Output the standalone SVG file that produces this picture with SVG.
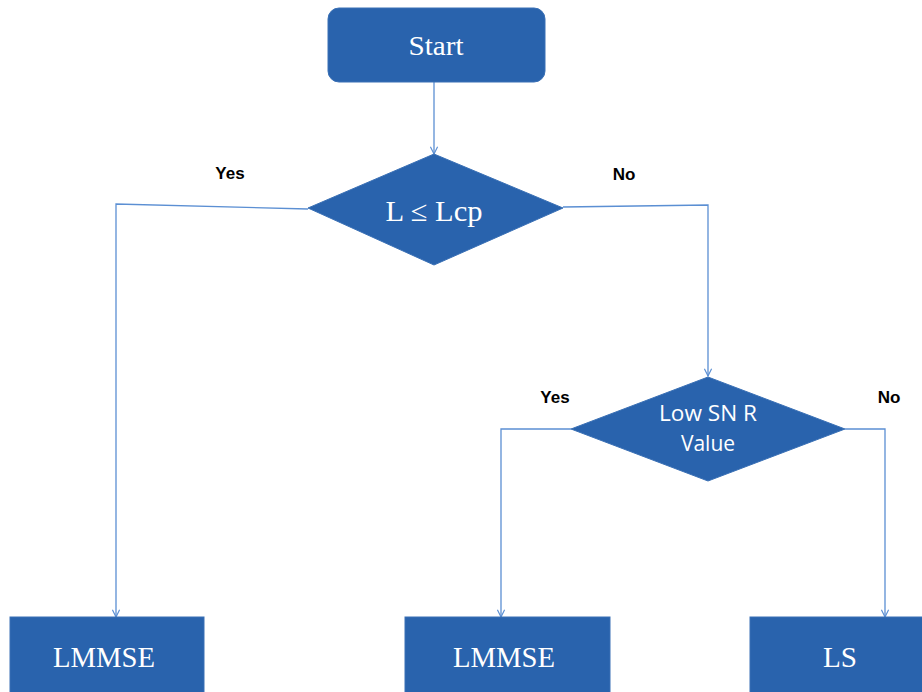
<svg xmlns="http://www.w3.org/2000/svg" width="922" height="692" viewBox="0 0 922 692">
<style>
.shape{fill:#2963ad;stroke:#3a70b5;stroke-width:1}
.serif{font-family:"Liberation Serif","DejaVu Serif",serif;fill:#ffffff;text-anchor:middle}
.sans{font-family:"Open Sans","Liberation Sans",sans-serif;fill:#ffffff;text-anchor:middle;font-size:21px}
.lbl{font-family:"Liberation Sans",Arial,sans-serif;font-weight:bold;font-size:17px;fill:#000;text-anchor:middle}
.conn{fill:none;stroke:#5b8fd3;stroke-width:1.3}
</style>
<defs>
<marker id="arr" viewBox="0 0 10 10" refX="9" refY="5" markerWidth="9" markerHeight="9" markerUnits="userSpaceOnUse" orient="auto">
<path d="M1,1 L9,5 L1,9" fill="none" stroke="#5b8fd3" stroke-width="1.3"/>
</marker>
</defs>
<g id="connectors">
<path class="conn" d="M434,82 L434,154" marker-end="url(#arr)"/>
<path class="conn" d="M308,209 L116,204 L116,617" marker-end="url(#arr)"/>
<path class="conn" d="M563,207 L708,205 L708,376" marker-end="url(#arr)"/>
<path class="conn" d="M571,429 L501,429 L501,617" marker-end="url(#arr)"/>
<path class="conn" d="M845,429 L885,429 L885,617" marker-end="url(#arr)"/>
</g>
<g id="start">
<rect class="shape" x="328" y="8" width="217" height="74" rx="11"/>
<text class="serif" x="436" y="55" font-size="28" textLength="55" lengthAdjust="spacingAndGlyphs">Start</text>
</g>
<g id="decision1">
<polygon class="shape" points="434,154 563,208 434,265 308,208"/>
<text class="serif" x="434" y="221" font-size="29" textLength="97" lengthAdjust="spacingAndGlyphs">L ≤ Lcp</text>
</g>
<g id="decision2">
<polygon class="shape" points="708,377 845,429 708,481 571,429"/>
<text class="sans" x="708" y="421" textLength="98" lengthAdjust="spacingAndGlyphs">Low SN R</text>
<text class="sans" x="708" y="451">Value</text>
</g>
<g id="lmmse1">
<rect class="shape" x="10" y="617" width="194" height="80"/>
<text class="serif" x="104" y="667" font-size="30" textLength="102" lengthAdjust="spacingAndGlyphs">LMMSE</text>
</g>
<g id="lmmse2">
<rect class="shape" x="405" y="617" width="205" height="80"/>
<text class="serif" x="504" y="667" font-size="30" textLength="102" lengthAdjust="spacingAndGlyphs">LMMSE</text>
</g>
<g id="ls">
<rect class="shape" x="750" y="617" width="180" height="80"/>
<text class="serif" x="840" y="667" font-size="30" textLength="34" lengthAdjust="spacingAndGlyphs">LS</text>
</g>
<g id="labels">
<text class="lbl" x="230" y="179">Yes</text>
<text class="lbl" x="624" y="180">No</text>
<text class="lbl" x="555" y="403">Yes</text>
<text class="lbl" x="889" y="403">No</text>
</g>
</svg>
